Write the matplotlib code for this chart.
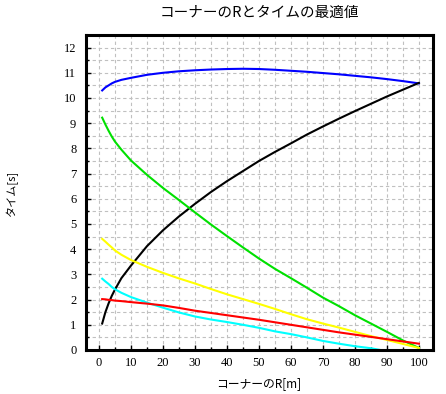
import matplotlib
matplotlib.use("Agg")
import matplotlib.pyplot as plt
from matplotlib.ticker import MultipleLocator

title = "コーナーのRとタイムの最適値"
xlabel = "コーナーのR[m]"
ylabel = "タイム[s]"

r = [1, 2, 3, 4, 5, 7, 10, 15, 20, 25, 30, 35, 40, 45, 50, 55, 60, 65, 70, 75, 80, 85, 90, 95, 100]
blue = [10.30, 10.42, 10.50, 10.58, 10.64, 10.72, 10.80, 10.92, 11.00, 11.06, 11.10, 11.13, 11.15, 11.16,
        11.15, 11.12, 11.08, 11.04, 10.99, 10.94, 10.88, 10.82, 10.75, 10.67, 10.58]
black = [1.05, 1.50, 1.85, 2.15, 2.40, 2.85, 3.35, 4.12, 4.75, 5.30, 5.80, 6.27, 6.70, 7.10, 7.50, 7.86,
         8.20, 8.55, 8.87, 9.18, 9.48, 9.77, 10.06, 10.33, 10.60]
green = [9.22, 8.95, 8.70, 8.47, 8.27, 7.95, 7.52, 6.95, 6.43, 5.95, 5.46, 4.98, 4.52, 4.07, 3.63, 3.22,
         2.85, 2.47, 2.08, 1.74, 1.38, 1.05, 0.72, 0.38, 0.08]
yellow = [4.41, 4.30, 4.18, 4.07, 3.95, 3.78, 3.57, 3.30, 3.06, 2.84, 2.64, 2.42, 2.21, 2.02, 1.83, 1.63,
          1.42, 1.22, 1.05, 0.89, 0.72, 0.55, 0.40, 0.24, 0.08]
red = [2.02, 2.01, 1.99, 1.98, 1.96, 1.94, 1.90, 1.84, 1.77, 1.67, 1.56, 1.47, 1.38, 1.29, 1.20, 1.10,
       1.00, 0.90, 0.80, 0.70, 0.61, 0.52, 0.43, 0.34, 0.25]
r_cyan = [1, 2, 3, 4, 5, 7, 10, 15, 20, 25, 30, 35, 40, 45, 50, 55, 60, 65, 70, 75, 80, 85, 88]
cyan = [2.83, 2.72, 2.62, 2.50, 2.41, 2.27, 2.10, 1.88, 1.68, 1.49, 1.33, 1.21, 1.11, 1.00, 0.88, 0.74,
        0.63, 0.50, 0.36, 0.25, 0.15, 0.07, 0.0]

xticks = [0, 10, 20, 30, 40, 50, 60, 70, 80, 90, 100]
yticks = [0, 1, 2, 3, 4, 5, 6, 7, 8, 9, 10, 11, 12]

jp = ["Noto Sans CJK JP", "DejaVu Sans"]

fig = plt.figure(figsize=(4.46, 3.94), dpi=100)
ax = fig.add_axes([86/446, 1 - 350/394, (433 - 86)/446, (350 - 35)/394])

lw = 1.5
ax.plot(r, blue, color="#0000ff", lw=lw)
ax.plot(r, black, color="#000000", lw=lw)
ax.plot(r, green, color="#00e000", lw=lw)
ax.plot(r, yellow, color="#ffff00", lw=lw)
ax.plot(r_cyan, cyan, color="#00ffff", lw=lw)
ax.plot(r, red, color="#ff0000", lw=lw)

ax.set_xlim(-4.06, 104.4)
ax.set_ylim(0, 12.5)
ax.set_xticks(xticks)
ax.set_yticks(yticks)
ax.xaxis.set_minor_locator(MultipleLocator(5))
ax.yaxis.set_minor_locator(MultipleLocator(0.5))
ax.grid(which="both", color="#c0c0c0", linestyle=(0, (3, 2.5)), linewidth=0.8)
ax.set_axisbelow(True)

ax.tick_params(which="major", direction="in", length=3.5, width=1, pad=7, labelsize=8)
ax.tick_params(which="minor", direction="in", length=2, width=1)
ax.tick_params(axis="x", which="major", pad=5)
for lab in ax.get_xticklabels() + ax.get_yticklabels():
    lab.set_family("Liberation Serif")
    lab.set_fontsize(9)

for s in ax.spines.values():
    s.set_linewidth(2.2)

fig.text(259.5/446, 1 - 13/394, title, ha="center", va="center", fontsize=10.5, family=jp)
fig.text(259/446, 1 - 384/394, xlabel, ha="center", va="center", fontsize=8.5, family=jp)
fig.text(12/446, 1 - 193/394, ylabel, ha="center", va="center", fontsize=8, family=jp, rotation=90)

fig.savefig("out.png", dpi=100)
